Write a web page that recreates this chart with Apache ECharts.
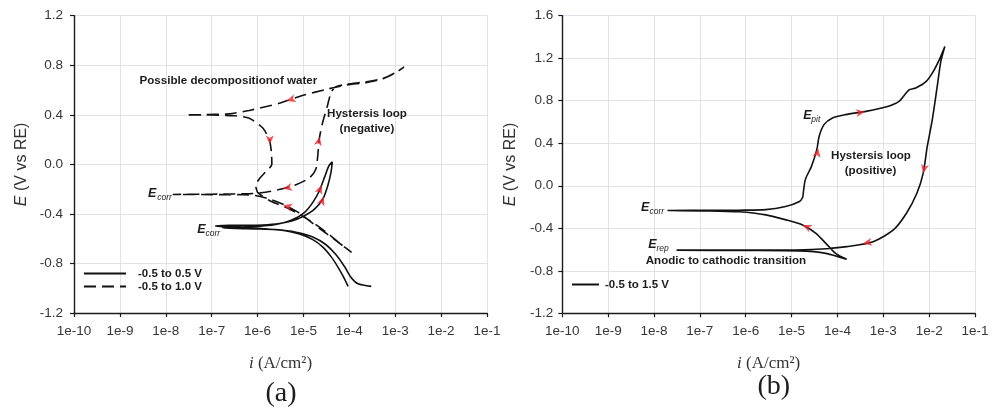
<!DOCTYPE html>
<html><head><meta charset="utf-8">
<script src="https://cdn.jsdelivr.net/npm/echarts@6/dist/echarts.min.js"></script>
<style>html,body{margin:0;padding:0;background:#fff}#c{width:1000px;height:409px}</style>
</head><body><div id="c"></div>
<script>
// ---------- tick values ----------
const xDecades = [-10, -9, -8, -7, -6, -5, -4, -3, -2, -1];
const yTicksA = [-1.2, -0.8, -0.4, 0.0, 0.4, 0.8, 1.2];
const yTicksB = [-1.2, -0.8, -0.4, 0.0, 0.4, 0.8, 1.2, 1.6];

// ---------- panel (a): -0.5 to 0.5 V (solid) ----------
const solidA_i = [9.4e-5,7.5e-5,5.6e-5,4.0e-5,2.65e-5,1.6e-5,8.2e-6,3.5e-6,1.5e-6,9.2e-7,4.0e-7,2.0e-7,1.2e-7,2.4e-7,5.6e-7,1.3e-6,3.0e-6,5.8e-6,9.7e-6,1.74e-5,2.65e-5,3.4e-5,4.0e-5,4.25e-5,3.6e-5,2.9e-5,2.24e-5,1.6e-5,1.05e-5,5.4e-6,2.3e-6,9.2e-7,3.4e-7,1.7e-7,3.4e-7,9.2e-7,2.5e-6,6.9e-6,1.6e-5,3.1e-5,5.2e-5,7.9e-5,1.1e-4,1.55e-4,3.0e-4];
const solidA_E = [-0.985,-0.91,-0.827,-0.745,-0.668,-0.608,-0.562,-0.532,-0.521,-0.515,-0.51,-0.504,-0.497,-0.493,-0.492,-0.489,-0.477,-0.455,-0.422,-0.362,-0.279,-0.17,-0.06,0.02,-0.011,-0.101,-0.211,-0.307,-0.389,-0.452,-0.488,-0.501,-0.507,-0.512,-0.518,-0.521,-0.527,-0.548,-0.586,-0.649,-0.732,-0.827,-0.915,-0.964,-0.985];

// ---------- panel (a): -0.5 to 1.0 V (dashed) ----------
const dashA_i = [7.1e-5,4.5e-5,2.5e-5,1.4e-5,7.9e-6,4.0e-6,2.0e-6,1.0e-6,5.0e-7,1.0e-7,1.45e-8,1.0e-7,3.2e-7,7.1e-7,1.5e-6,3.5e-6,6.9e-6,1.35e-5,1.86e-5,2.04e-5,2.2e-5,2.6e-5,3.3e-5,4.0e-5,5.0e-5,8.3e-5,2.4e-4,5.5e-4,1.0e-3,1.55e-3,1.0e-3,5.5e-4,2.4e-4,8.3e-5,3.1e-5,9.5e-6,2.95e-6,6.6e-7,2.4e-7,6.3e-8,2.75e-8,1.0e-7,3.2e-7,6.6e-7,1.3e-6,1.8e-6,2.0e-6,2.05e-6,1.5e-6,1.1e-6,9.1e-7,1.0e-6,1.26e-6,2.0e-6,4.0e-6,7.9e-6,1.6e-5,3.2e-5,6.3e-5,1.12e-4];
const dashA_E = [-0.655,-0.60,-0.53,-0.46,-0.39,-0.33,-0.285,-0.255,-0.245,-0.244,-0.243,-0.241,-0.239,-0.236,-0.225,-0.197,-0.164,-0.11,-0.04,0.06,0.2,0.333,0.467,0.58,0.625,0.645,0.667,0.695,0.74,0.785,0.738,0.692,0.662,0.64,0.605,0.555,0.493,0.435,0.408,0.401,0.40,0.398,0.392,0.372,0.293,0.2,0.1,0.0,-0.06,-0.115,-0.17,-0.225,-0.255,-0.30,-0.345,-0.40,-0.47,-0.55,-0.64,-0.71];

// ---------- panel (b): -0.5 to 1.5 V (solid) ----------
const solidB_i = [1.6e-4,9.1e-5,5.6e-5,3.4e-5,1.74e-5,7.6e-6,2.75e-6,7.1e-7,1.6e-7,2.0e-8,1.6e-7,7.1e-7,2.75e-6,7.4e-6,1.45e-5,1.74e-5,1.82e-5,2.0e-5,2.7e-5,3.55e-5,4.0e-5,5.1e-5,7.8e-5,1.5e-4,4.2e-4,1.13e-3,2.2e-3,3.6e-3,5.1e-3,8.5e-3,1.17e-2,1.66e-2,2.2e-2,1.8e-2,1.5e-2,1.17e-2,9.1e-3,7.4e-3,5.4e-3,3.2e-3,1.66e-3,6.0e-4,1.6e-4,5.8e-5,1.3e-5,1.05e-6,3.1e-8,1.0e-6,1.45e-5,5.6e-5,1.5e-4];
const solidB_E = [-0.692,-0.636,-0.542,-0.447,-0.369,-0.321,-0.274,-0.245,-0.236,-0.233,-0.231,-0.230,-0.225,-0.195,-0.15,-0.11,-0.05,0.06,0.18,0.34,0.466,0.575,0.638,0.669,0.70,0.74,0.794,0.90,0.92,0.98,1.06,1.185,1.31,1.17,0.934,0.62,0.37,0.117,-0.071,-0.259,-0.416,-0.526,-0.573,-0.592,-0.604,-0.606,-0.606,-0.609,-0.613,-0.636,-0.69];

// ---------- scan-direction arrows ----------
const arrowsA_i = [4.3e-6, 1.85e-6, 2.26e-5, 3.6e-6, 3.6e-6, 2.48e-5, 2.77e-5];
const arrowsA_E = [0.512, 0.16, 0.223, -0.197, -0.33, -0.166, -0.26];
const arrowsA_rot = [108, 180, -12, 102, 74, -20, -20];
const arrowsB_i = [3.8e-5, 4.0e-4, 7.4e-3, 3.6e-4, 1.74e-5];
const arrowsB_E = [0.353, 0.697, 0.117, -0.543, -0.369];
const arrowsB_rot = [-10, -81, 168, 101, 66];

const zip = (a, b) => a.map((v, k) => [v, b[k]]);
const arrowData = (a, b, r) => a.map((v, k) => ({value: [v, b[k]], symbolRotate: r[k]}));

const SANS = '"Liberation Sans", Arial, sans-serif';
const SERIF = '"Liberation Serif", "Times New Roman", serif';
const LABEL_C = '#363636';
const INK = '#1a1a1a';
const GRID_C = '#dfe2e7';

function xAxis(gi) {
  return {
    type: 'log', gridIndex: gi, logBase: 10,
    min: Math.pow(10, xDecades[0]), max: Math.pow(10, xDecades[xDecades.length - 1]),
    name: '{it|i} (A/cm²)', nameLocation: 'middle', nameGap: 42,
    nameTextStyle: {fontFamily: SERIF, fontSize: 17, color: '#333',
      rich: {it: {fontFamily: SERIF, fontStyle: 'italic', fontSize: 17, color: '#333'}}},
    axisLine: {show: true, onZero: false, lineStyle: {color: INK, width: 1.4}},
    axisTick: {show: true, length: 4, inside: false, lineStyle: {color: INK, width: 1.2}},
    minorTick: {show: false},
    axisLabel: {fontFamily: SANS, fontSize: 13.5, color: LABEL_C, margin: 11,
      formatter: v => '1e' + Math.round(Math.log10(v))},
    splitLine: {show: true, lineStyle: {color: GRID_C, width: 1}}
  };
}
function yAxis(gi, ticks, gap, margin) {
  return {
    type: 'value', gridIndex: gi,
    min: ticks[0], max: ticks[ticks.length - 1], interval: 0.4,
    name: '{it|E} (V vs RE)', nameLocation: 'middle', nameGap: gap, nameRotate: 90,
    nameTextStyle: {fontFamily: SANS, fontSize: 16, color: '#333',
      rich: {it: {fontFamily: SANS, fontStyle: 'italic', fontSize: 16, color: '#333'}}},
    axisLine: {show: true, onZero: false, lineStyle: {color: INK, width: 1.4}},
    axisTick: {show: true, length: 4, inside: false, lineStyle: {color: INK, width: 1.2}},
    axisLabel: {fontFamily: SANS, fontSize: 13.5, color: LABEL_C, margin: margin,
      formatter: v => (Math.abs(v) < 1e-9 ? '0.0' : v.toFixed(1))},
    splitLine: {show: true, lineStyle: {color: GRID_C, width: 1}}
  };
}
function curve(name, gi, data, dashed) {
  return {
    name: name, type: 'line', xAxisIndex: gi, yAxisIndex: gi,
    data: data, symbol: 'none', smooth: 0.25, animation: false, z: 3,
    lineStyle: {color: '#111', width: 1.6, type: dashed ? [12, 6] : 'solid'},
    itemStyle: {color: '#111'}
  };
}
function arrows(gi, data) {
  return {
    type: 'scatter', xAxisIndex: gi, yAxisIndex: gi, data: data,
    symbol: 'arrow', symbolSize: [6, 9], animation: false, z: 5, silent: true,
    itemStyle: {color: '#e8262b'}
  };
}
function txt(x, y, text, font, align) {
  return {type: 'text', x: x, y: y, z: 100, silent: true,
    style: {text: text, font: font, fill: '#1c1c1c', align: align || 'left', verticalAlign: 'middle'}};
}
const B = 'bold 11.6px ' + SANS;
const EF = 'italic bold 12.5px ' + SANS;
const SF = 'italic 8.5px ' + SANS;
const legendText = {fontFamily: SANS, fontWeight: 'bold', fontSize: 11.5, color: '#1c1c1c', lineHeight: 13};

const chart = echarts.init(document.getElementById('c'), null, {renderer: 'canvas'});
chart.setOption({
  backgroundColor: '#ffffff',
  animation: false,
  grid: [
    {left: 74, top: 15.7, width: 413, height: 297.3},
    {left: 562.3, top: 15.7, width: 412.7, height: 297.6}
  ],
  xAxis: [xAxis(0), xAxis(1)],
  yAxis: [yAxis(0, yTicksA, 44, 11), yAxis(1, yTicksB, 44, 9)],
  legend: [
    {data: ['-0.5 to 0.5 V', '-0.5 to 1.0 V'], left: 83, top: 267, orient: 'vertical',
     itemWidth: 42, itemHeight: 8, itemGap: 0, padding: 0, selectedMode: false,
     itemStyle: {opacity: 0},
     textStyle: Object.assign({padding: [0, 0, 0, 7]}, legendText)},
    {data: ['-0.5 to 1.5 V'], left: 571, top: 278, orient: 'vertical',
     itemWidth: 27, itemHeight: 8, itemGap: 0, padding: 0, selectedMode: false,
     itemStyle: {opacity: 0},
     textStyle: Object.assign({padding: [0, 0, 0, 1]}, legendText)}
  ],
  series: [
    curve('-0.5 to 0.5 V', 0, zip(solidA_i, solidA_E), false),
    curve('-0.5 to 1.0 V', 0, zip(dashA_i, dashA_E), true),
    curve('-0.5 to 1.5 V', 1, zip(solidB_i, solidB_E), false),
    arrows(0, arrowData(arrowsA_i, arrowsA_E, arrowsA_rot)),
    arrows(1, arrowData(arrowsB_i, arrowsB_E, arrowsB_rot))
  ],
  graphic: [
    txt(139.5, 80.5, 'Possible decompositionof water', B),
    txt(367, 114, 'Hystersis loop', B, 'center'),
    txt(367, 128.5, '(negative)', B, 'center'),
    txt(148, 193.5, 'E', EF), txt(157.3, 197.3, 'corr', SF),
    txt(197.3, 229.7, 'E', EF), txt(205.5, 233.5, 'corr', SF),
    txt(281, 394, '(a)', '28px ' + SERIF, 'center'),
    txt(803.3, 115.5, 'E', EF), txt(811.3, 119.3, 'pit', SF),
    txt(871, 155.7, 'Hystersis loop', B, 'center'),
    txt(870.5, 170.3, '(positive)', B, 'center'),
    txt(641, 207.5, 'E', EF), txt(649.5, 211.3, 'corr', SF),
    txt(648.3, 244.5, 'E', EF), txt(656.5, 248.3, 'rep', SF),
    txt(645.7, 260.5, 'Anodic to cathodic transition', B),
    txt(773.8, 386.5, '(b)', '28px ' + SERIF, 'center')
  ]
});
</script></body></html>
